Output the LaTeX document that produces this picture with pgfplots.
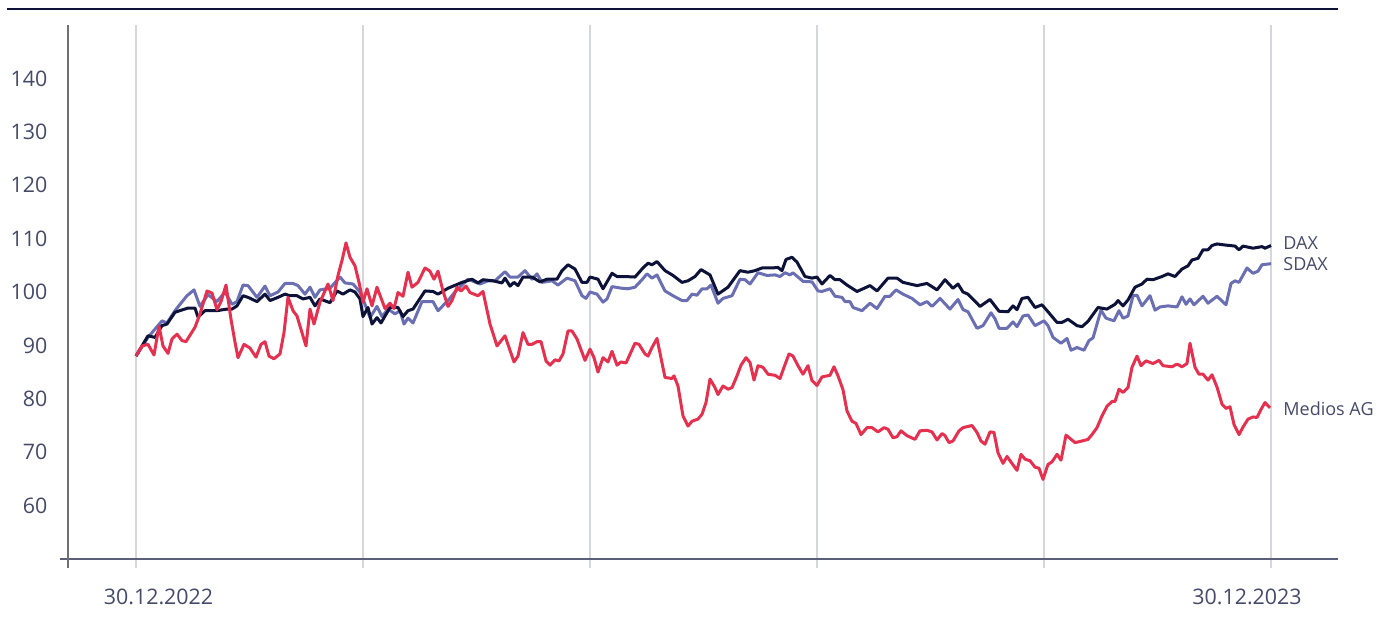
\documentclass[border=0pt]{standalone}
\usepackage{fontspec}
\setmainfont{Open Sans}
\usepackage{pgfplots}
\pgfplotsset{compat=1.18}
\definecolor{daxc}{HTML}{0D1238}
\definecolor{sdaxc}{HTML}{6A6FB4}
\definecolor{medc}{HTML}{E5304F}
\definecolor{txt}{HTML}{454A68}
\definecolor{gridc}{HTML}{D6D6DE}
\definecolor{xax}{HTML}{5B5F78}
\definecolor{yax}{HTML}{707070}
\begin{document}
\begin{tikzpicture}
\begin{axis}[
 at={(0,0)}, anchor=south west, scale only axis, width=635pt, height=267pt,
 xmin=-68, xmax=1202, ymin=50, ymax=150,
 axis line style={draw=none},
 xtick={0,227,454,681,908,1135}, xticklabels={}, xtick pos=bottom,
 xmajorgrids, grid style={gridc, line width=0.6pt},
 major tick length=4.5pt, tick align=outside, xtick style={gridc, line width=0.6pt},
 ytick={60,70,...,140}, ytick style={draw=none}, ytick pos=left,
 yticklabel style={font=\fontsize{10.7}{12}\selectfont, text=txt, anchor=east, xshift=-2.3pt},
 /pgf/number format/assume math mode=true,
 clip=false,
 every axis plot/.append style={line width=1.5pt, line join=round, mark=none},
]
% SDAX
\addplot[sdaxc] coordinates {
(0,88.0)(12,91.5)(26,94.6)(31,94.2)(39,96.5)(44,97.7)(51,99.3)(58,100.4)(64,97.3)(72,99.5)
(81,98.2)(89,100.0)(96,97.7)(101,98.2)(107,101.3)(112,101.2)(121,99.0)(129,101.1)(134,99.3)(142,100.0)
(149,101.6)(157,101.6)(162,101.2)(169,99.6)(174,100.9)(179,99.0)(184,100.4)(194,100.7)(204,102.8)(209,101.7)
(217,101.5)(224,100.0)(229,97.7)(234,95.2)(241,97.3)(246,95.4)(252,96.8)(259,95.9)(264,96.5)(268,94.0)
(272,95.1)(277,94.2)(286,98.2)(297,98.2)(302,96.5)(312,98.4)(319,100.0)(332,102.4)(344,101.5)(352,102.1)
(359,102.1)(369,103.8)(374,102.8)(382,102.8)(389,104.0)(396,102.4)(401,103.4)(406,101.8)(416,102.1)(422,101.3)
(431,102.6)(439,102.1)(446,99.3)(450,98.8)(454,100.0)(461,99.6)(467,98.1)(471,98.7)(476,101.0)(486,100.7)
(492,100.6)(499,100.9)(506,102.3)(511,103.4)(516,102.6)(521,103.2)(529,100.2)(537,99.3)(546,98.4)(551,98.4)
(556,99.6)(561,99.4)(566,100.6)(571,100.6)(575,101.3)(582,97.9)(587,98.8)(596,99.3)(604,102.4)(609,102.3)
(614,101.5)(622,103.6)(631,103.1)(639,103.2)(644,102.9)(649,103.6)(654,103.2)(657,103.6)(667,102.0)(676,101.9)
(682,100.2)(686,100.1)(694,100.6)(699,99.2)(706,99.0)(709,98.2)(714,98.2)(717,97.1)(726,96.5)(734,97.9)
(741,96.9)(749,99.2)(754,99.2)(760,100.4)(767,99.6)(776,98.8)(784,97.6)(791,98.2)(796,97.3)(804,98.8)
(814,96.8)(822,98.6)(827,96.7)(832,96.3)(841,93.2)(847,93.7)(855,96.1)(859,95.0)(863,93.2)(871,93.2)
(877,94.4)(881,93.5)(887,95.5)(892,95.7)(899,93.7)(908,94.6)(912,93.7)(917,91.5)(925,90.4)(931,91.3)
(935,89.1)(941,89.6)(948,89.1)(953,90.9)(957,91.4)(965,96.6)(970,95.1)(978,94.6)(983,96.5)(987,95.1)
(992,95.5)(997,99.3)(1001,99.4)(1006,97.4)(1014,99.3)(1019,96.6)(1024,97.2)(1032,97.4)(1041,97.2)(1046,99.1)
(1050,97.7)(1054,98.7)(1058,97.6)(1067,99.2)(1072,97.9)(1081,99.2)(1090,97.6)(1095,101.6)(1099,102.1)(1103,101.8)
(1111,104.5)(1117,103.5)(1122,103.9)(1126,105.1)(1135,105.3)
};
% DAX
\addplot[daxc] coordinates {
(0,88.0)(12,91.8)(19,91.5)(26,93.7)(31,94.0)(39,96.2)(52,97.0)(59,97.0)(62,95.3)(69,96.5)
(81,96.5)(91,96.8)(96,96.8)(101,97.4)(107,99.3)(112,99.0)(121,98.2)(129,99.6)(134,98.4)(142,99.0)
(149,99.6)(154,99.3)(161,99.3)(167,98.7)(174,99.0)(179,97.4)(184,98.7)(194,98.0)(201,100.2)(207,99.6)
(214,100.4)(219,100.0)(224,98.7)(227,95.4)(232,97.1)(236,94.0)(241,95.2)(245,94.2)(254,97.1)(262,97.1)
(267,95.4)(272,96.5)(277,96.8)(289,100.2)(297,100.1)(302,99.6)(312,100.7)(326,101.8)(336,102.4)(342,101.7)
(347,102.3)(357,102.1)(366,101.7)(369,102.6)(374,101.1)(378,101.8)(382,101.2)(387,102.8)(396,102.8)(404,101.9)
(411,102.4)(421,102.4)(426,104.0)(432,105.1)(439,104.3)(446,101.8)(451,101.8)(454,102.8)(462,102.4)(467,100.6)
(476,103.5)(481,102.9)(489,102.9)(499,102.8)(506,104.3)(512,105.4)(516,105.1)(521,105.7)(529,104.0)(537,103.1)
(546,101.8)(552,102.1)(559,102.9)(565,104.2)(574,103.2)(582,99.6)(592,100.9)(604,104.0)(612,103.7)(619,104.0)
(626,104.5)(636,104.5)(642,104.6)(646,104.0)(650,106.1)(656,106.5)(661,105.6)(669,102.9)(676,102.6)(681,102.8)
(686,101.5)(694,103.1)(699,102.3)(704,102.3)(711,101.3)(721,100.1)(727,100.6)(734,101.2)(741,100.2)(752,102.6)
(761,102.6)(767,101.8)(781,101.2)(791,101.6)(801,100.4)(809,102.3)(817,100.7)(822,101.5)(827,100.0)(832,99.6)
(844,97.3)(854,98.6)(863,96.4)(872,96.3)(877,97.4)(881,96.7)(886,98.8)(892,99.0)(899,97.1)(906,97.6)
(912,96.3)(921,94.3)(926,94.3)(932,94.9)(941,93.7)(946,93.5)(952,94.5)(962,97.1)(971,96.8)(979,97.7)
(982,98.4)(987,97.4)(992,98.5)(999,100.9)(1006,101.5)(1011,102.4)(1017,102.3)(1026,102.9)(1032,103.4)(1039,102.9)
(1046,104.3)(1052,104.9)(1056,106.0)(1062,106.3)(1067,107.9)(1072,107.9)(1076,108.7)(1081,109.0)(1089,108.8)(1099,108.6)
(1103,107.9)(1107,108.6)(1117,108.2)(1126,108.5)(1129,108.2)(1135,108.7)
};
% Medios AG
\addplot[medc] coordinates {
(0,88.0)(6,89.9)(12,90.2)(18,88.2)(23,93.6)(27,89.9)(32,88.5)(36,91.2)(41,92.1)(46,90.9)
(50,90.7)(59,93.4)(64,95.9)(71,100.2)(76,99.8)(81,96.7)(85,98.2)(90,101.3)(95,94.9)(99,90.6)
(102,87.7)(108,90.2)(114,89.5)(120,87.8)(125,90.2)(129,90.7)(133,88.0)(138,87.5)(144,88.4)(148,92.4)
(152,99.0)(157,96.5)(161,95.5)(165,93.0)(170,89.9)(174,96.8)(178,94.0)(184,98.1)(189,100.2)(192,101.5)
(197,98.4)(202,103.1)(206,105.9)(210,109.2)(214,106.5)(219,104.9)(223,101.8)(227,98.1)(231,100.6)(236,97.4)
(241,100.9)(249,96.9)(254,97.9)(258,96.9)(262,99.9)(267,99.2)(272,103.7)(276,100.9)(282,101.8)(289,104.5)
(294,103.9)(298,102.4)(302,103.9)(307,100.2)(312,97.3)(316,98.4)(321,100.9)(325,100.2)(330,101.1)(334,99.9)
(342,99.3)(347,100.1)(354,94.0)(361,89.9)(369,91.8)(378,86.9)(382,88.0)(387,92.4)(392,90.2)(396,90.2)
(401,90.7)(405,90.7)(410,87.1)(414,86.3)(419,87.3)(423,87.1)(427,88.4)(432,92.7)(436,92.7)(441,91.2)
(449,87.2)(454,89.3)(458,87.7)(462,85.0)(467,87.7)(472,86.9)(476,88.9)(481,86.3)(485,86.9)(490,86.7)
(499,90.4)(503,90.2)(509,88.4)(512,88.0)(516,89.6)(521,91.3)(529,84.0)(536,83.8)(538,84.3)(542,82.4)
(547,76.8)(552,74.9)(556,75.8)(562,76.2)(566,77.1)(570,79.3)(574,83.7)(579,82.1)(582,80.8)(587,82.4)
(592,81.8)(596,82.1)(601,84.3)(605,86.3)(610,87.7)(614,86.8)(618,83.5)(622,86.2)(627,85.9)(632,84.6)
(639,84.4)(644,83.8)(648,85.9)(653,88.4)(657,88.0)(662,86.2)(667,84.6)(672,86.2)(676,83.4)(681,82.5)
(686,84.1)(694,84.4)(698,86.0)(702,84.3)(707,81.7)(711,77.7)(716,75.8)(720,75.4)(725,73.3)(731,74.6)
(736,74.6)(742,73.8)(748,74.6)(752,74.3)(757,72.7)(761,72.9)(765,74.0)(771,73.1)(779,72.4)(784,74.0)
(791,74.1)(796,73.8)(801,72.3)(806,73.5)(809,73.1)(813,71.8)(817,72.1)(823,74.0)(827,74.6)(836,75.0)
(841,73.7)(845,72.1)(849,71.5)(854,73.8)(858,73.7)(862,69.9)(867,67.9)(871,69.2)(876,67.9)(881,66.6)
(885,69.6)(889,68.7)(894,68.4)(899,67.2)(903,67.0)(907,64.9)(912,67.7)(916,68.2)(921,69.6)(925,68.5)
(930,73.2)(939,71.8)(946,72.1)(952,72.4)(956,73.3)(961,74.6)(966,76.8)(971,78.6)(976,79.5)(979,79.5)
(983,81.8)(987,81.2)(992,82.1)(996,85.9)(1001,88.0)(1005,86.2)(1010,87.1)(1017,86.6)(1023,87.2)(1027,86.2)
(1036,86.0)(1041,86.5)(1046,86.0)(1051,86.6)(1054,90.4)(1059,85.9)(1063,84.6)(1067,84.6)(1072,83.5)(1076,84.5)
(1081,82.2)(1086,79.0)(1090,78.2)(1094,78.5)(1098,75.2)(1103,73.3)(1107,74.7)(1112,76.2)(1117,76.6)(1121,76.5)
(1125,78.0)(1129,79.3)(1134,78.3)
};
% axis lines and decorations
\draw[xax, line width=1pt] ([xshift=-4pt]rel axis cs:0,0) -- (rel axis cs:1,0);
\draw[yax, line width=1pt] (rel axis cs:0,1) -- ([yshift=-4.5pt]rel axis cs:0,0);
\draw[daxc, line width=1.4pt] ([xshift=-30.5pt, yshift=8pt]rel axis cs:0,1) -- ([yshift=8pt]rel axis cs:1,1);
\node[font=\fontsize{10.7}{12}\selectfont, text=txt] at ([yshift=-19pt]axis cs:22.5,50) {30.12.2022};
\node[font=\fontsize{10.7}{12}\selectfont, text=txt] at ([yshift=-19pt]axis cs:1111,50) {30.12.2023};
\node[font=\fontsize{9}{11}\selectfont, text=txt, anchor=west, inner sep=0pt] at (axis cs:1147,109.2) {DAX};
\node[font=\fontsize{9}{11}\selectfont, text=txt, anchor=west, inner sep=0pt] at (axis cs:1147,105.3) {SDAX};
\node[font=\fontsize{9}{11}\selectfont, text=txt, anchor=west, inner sep=0pt] at (axis cs:1147,78.2) {Medios AG};
\end{axis}
\pgfresetboundingbox
\useasboundingbox (-34pt,-31.5pt) rectangle (660pt,279.5pt);
\end{tikzpicture}
\end{document}
